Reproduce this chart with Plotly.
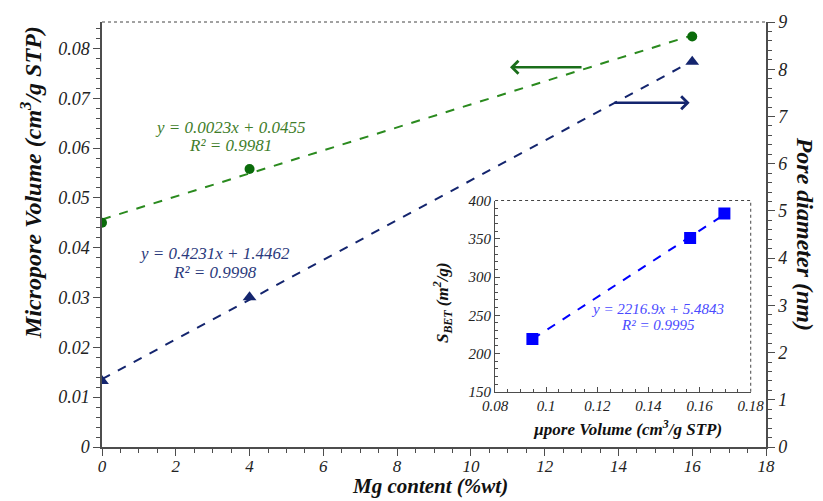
import numpy as np
import plotly.graph_objects as go

# ---- data ----
mg_content = [0, 4, 16]
micropore_volume = [0.0450, 0.0558, 0.0824]
pore_diameter = [1.40, 3.17, 8.16]

upore_volume = [0.0946, 0.1563, 0.1697]
s_bet = [219, 351, 383]

eq_green = ["y = 0.0023x + 0.0455", "R² = 0.9981"]
eq_navy = ["y = 0.4231x + 1.4462", "R² = 0.9998"]
eq_inset = ["y = 2216.9x + 5.4843", "R² = 0.9995"]

SERIF = "Liberation Serif"
GREEN_M = "#0a6b0a"
GREEN_L = "#2a8a1e"
GREEN_T = "#3f7d2a"
NAVY = "#14256e"
NAVY_T = "#2b3a7c"
BLUE = "#0000ff"
BLUE_T = "#4a4aff"
AX = "#4d4d4d"

def fitline(x, y):
    a, b = np.polyfit(x, y, 1)
    xs = np.array([min(x), max(x)])
    return xs, a * xs + b

fig = go.Figure()

gx, gy = fitline(mg_content, micropore_volume)
fig.add_trace(go.Scatter(x=gx, y=gy, mode="lines",
                         line=dict(color=GREEN_L, width=2, dash="dash"),
                         xaxis="x", yaxis="y", showlegend=False))
fig.add_trace(go.Scatter(x=mg_content, y=micropore_volume, mode="markers",
                         marker=dict(symbol="circle", size=10, color=GREEN_M),
                         xaxis="x", yaxis="y", showlegend=False))

nx, ny = fitline(mg_content, pore_diameter)
fig.add_trace(go.Scatter(x=nx, y=ny, mode="lines",
                         line=dict(color=NAVY, width=2, dash="dash"),
                         xaxis="x", yaxis="y2", showlegend=False))
fig.add_trace(go.Scatter(x=mg_content, y=pore_diameter, mode="markers",
                         marker=dict(symbol="triangle-up", size=12, color=NAVY),
                         xaxis="x", yaxis="y2", showlegend=False))

ix, iy = fitline(upore_volume, s_bet)
fig.add_trace(go.Scatter(x=ix, y=iy, mode="lines",
                         line=dict(color=BLUE, width=2, dash="dash"),
                         xaxis="x3", yaxis="y3", showlegend=False))
fig.add_trace(go.Scatter(x=upore_volume, y=s_bet, mode="markers",
                         marker=dict(symbol="square", size=12, color=BLUE),
                         xaxis="x3", yaxis="y3", showlegend=False))

tickf = dict(family=SERIF, size=18, color="#222", style="italic")
tickf_x = dict(family=SERIF, size=17, color="#222", style="italic")
tickf_small = dict(family=SERIF, size=15, color="#222", style="italic")

fig.update_layout(
    width=823, height=501,
    margin=dict(l=102, r=57, t=16, b=54),
    paper_bgcolor="white", plot_bgcolor="white",
    xaxis=dict(domain=[0, 1], range=[0, 18], dtick=2, tick0=0,
               showgrid=False, zeroline=False, showline=True,
               linecolor=AX, linewidth=1.5, ticks="outside", ticklen=7,
               tickcolor=AX, tickwidth=1.2, tickfont=tickf_x,
               ticklabelstandoff=-4,
               minor=dict(dtick=0.5, ticks="outside", ticklen=4,
                          tickcolor=AX, showgrid=False),
               anchor="y"),
    yaxis=dict(domain=[0, 1], range=[0, 0.0853], dtick=0.01, tick0=0,
               tickformat=".2~f",
               showgrid=False, zeroline=False, showline=True,
               linecolor=AX, linewidth=1.5, ticks="outside", ticklen=7,
               tickcolor=AX, tickwidth=1.2, tickfont=tickf,
               minor=dict(dtick=0.002, ticks="outside", ticklen=4,
                          tickcolor=AX, showgrid=False),
               anchor="x"),
    yaxis2=dict(range=[0, 9], dtick=1, overlaying="y", side="right",
                showgrid=False, zeroline=False, showline=True,
                linecolor=AX, linewidth=1.5, ticks="outside", ticklen=7,
                tickcolor=AX, tickwidth=1.2, tickfont=tickf,
                minor=dict(dtick=0.2, ticks="outside", ticklen=4,
                           tickcolor=AX, showgrid=False),
                anchor="x"),
    xaxis3=dict(domain=[0.592, 0.977], range=[0.08, 0.18], dtick=0.02,
                tick0=0.08, tickformat="~g",
                showgrid=False, zeroline=False, showline=True,
                linecolor=AX, linewidth=1.2, ticks="inside", ticklen=5,
                tickcolor=AX, tickfont=tickf_small,
                minor=dict(dtick=0.005, ticks="inside", ticklen=3,
                           tickcolor=AX, showgrid=False),
                anchor="y3"),
    yaxis3=dict(domain=[0.130, 0.580], range=[150, 400], dtick=50,
                showgrid=False, zeroline=False, showline=True,
                linecolor=AX, linewidth=1.2, ticks="inside", ticklen=5,
                tickcolor=AX, tickfont=tickf_small,
                minor=dict(dtick=10, ticks="inside", ticklen=3,
                           tickcolor=AX, showgrid=False),
                anchor="x3"),
)

# dotted borders
fig.add_shape(type="line", xref="paper", yref="paper", x0=0, x1=1, y0=1, y1=1,
              line=dict(color="#444", width=1, dash="dot"))
fig.add_shape(type="line", xref="paper", yref="paper", x0=0.592, x1=0.977,
              y0=0.580, y1=0.580, line=dict(color="#444", width=1, dash="dot"))
fig.add_shape(type="line", xref="paper", yref="paper", x0=0.977, x1=0.977,
              y0=0.130, y1=0.580, line=dict(color="#444", width=1, dash="dot"))

titlef = dict(family=SERIF, size=24, color="#111")
ann = []
ann.append(dict(text="<b><i>Micropore Volume (cm<sup>3</sup>/g STP)</i></b>",
                xref="paper", yref="paper", x=-0.108, y=0.622, textangle=-90,
                showarrow=False, font=titlef, xanchor="center", yanchor="middle"))
ann.append(dict(text="<b><i>Pore diameter (nm)</i></b>",
                xref="paper", yref="paper", x=1.058, y=0.503, textangle=90,
                showarrow=False, font=titlef, xanchor="center", yanchor="middle"))
ann.append(dict(text="<b><i>Mg content (%wt)</i></b>",
                xref="paper", yref="paper", x=0.494, y=-0.1253,
                showarrow=False, font=dict(family=SERIF, size=21, color="#111"),
                xanchor="center", yanchor="bottom"))
ann.append(dict(text="<b><i>µpore Volume (cm<sup>3</sup>/g STP)</i></b>",
                xref="paper", yref="paper", x=0.791, y=0.044,
                showarrow=False, font=dict(family=SERIF, size=17, color="#111"),
                xanchor="center", yanchor="middle"))
ann.append(dict(text="<b><i>S<sub>BET</sub> (m<sup>2</sup>/g)</i></b>",
                xref="paper", yref="paper", x=0.512, y=0.341, textangle=-90,
                showarrow=False, font=dict(family=SERIF, size=17, color="#111"),
                xanchor="center", yanchor="middle"))

eqf = lambda c, s: dict(family=SERIF, size=s, color=c, style="italic")
ann.append(dict(text=eq_green[0], x=3.48, y=0.0641, xref="x", yref="y",
                showarrow=False, font=eqf(GREEN_T, 17)))
ann.append(dict(text=eq_green[1], x=3.48, y=0.0606, xref="x", yref="y",
                showarrow=False, font=eqf(GREEN_T, 17)))
ann.append(dict(text=eq_navy[0], x=3.06, y=4.10, xref="x", yref="y2",
                showarrow=False, font=eqf(NAVY_T, 17)))
ann.append(dict(text=eq_navy[1], x=3.06, y=3.70, xref="x", yref="y2",
                showarrow=False, font=eqf(NAVY_T, 17)))
ann.append(dict(text=eq_inset[0], x=0.1437, y=258, xref="x3", yref="y3",
                showarrow=False, font=eqf(BLUE_T, 15)))
ann.append(dict(text=eq_inset[1], x=0.1437, y=237, xref="x3", yref="y3",
                showarrow=False, font=eqf(BLUE_T, 15)))

# arrows
ann.append(dict(x=11.06, y=0.0762, ax=13.04, ay=0.0762, xref="x", yref="y",
                axref="x", ayref="y", text="", showarrow=True, arrowhead=4,
                arrowsize=1, arrowwidth=2.5, arrowcolor="#1a6e1a"))
ann.append(dict(x=15.93, y=7.29, ax=13.85, ay=7.29, xref="x", yref="y2",
                axref="x", ayref="y2", text="", showarrow=True, arrowhead=4,
                arrowsize=1, arrowwidth=2.5, arrowcolor=NAVY))

fig.update_layout(annotations=ann)
fig.write_html("out.html")
